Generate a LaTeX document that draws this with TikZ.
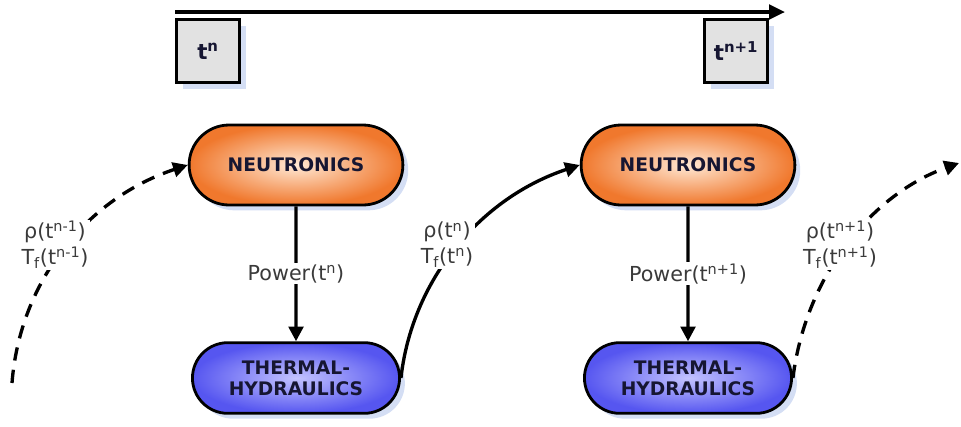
\documentclass[tikz,border=0pt]{standalone}
\usepackage{fontspec}
\setmainfont{DejaVu Sans}
\usetikzlibrary{arrows.meta,shapes.misc,shadows}

\definecolor{neuouter}{RGB}{240,120,45}
\definecolor{neuinner}{RGB}{255,232,212}
\definecolor{thouter}{RGB}{86,86,240}
\definecolor{thinner}{RGB}{195,195,255}
\definecolor{boxgray}{RGB}{226,226,226}
\definecolor{shadowblue}{RGB}{212,222,244}
\definecolor{navytext}{RGB}{22,22,50}
\definecolor{labelgray}{RGB}{58,58,58}

\tikzset{
  pill/.style={rounded rectangle, draw=black, line width=2.1pt, text=navytext, align=center,
    font=\bfseries\fontsize{14}{16}\selectfont,
    drop shadow={shadow xshift=4pt, shadow yshift=-4pt, fill=shadowblue, opacity=1}},
  neubox/.style={pill, inner color=neuinner, outer color=neuouter, minimum width=167pt, minimum height=60pt},
  thbox/.style={pill, inner color=thinner, outer color=thouter, minimum width=162pt, minimum height=53pt},
  timebox/.style={draw=black, line width=2.4pt, fill=boxgray, minimum size=47pt, text=navytext,
    font=\bfseries\fontsize{16}{18}\selectfont,
    drop shadow={shadow xshift=5pt, shadow yshift=-5pt, fill=shadowblue, opacity=1}},
  lbl/.style={fill=white, text=labelgray, inner sep=1pt, align=center, font=\fontsize{15.5}{19}\selectfont},
  flow/.style={line width=2.5pt, -{Triangle[length=11pt,width=11pt]}},
  flowdash/.style={flow, dash pattern=on 10pt off 7pt},
}

\begin{document}
\begin{tikzpicture}[x=0.75pt,y=0.75pt,yscale=-1,xscale=1]
\useasboundingbox (0,0) rectangle (961,426);

% time axis
\coordinate (tstart) at (175,12);
\coordinate (tend) at (785,12);
\draw [line width=2.5pt, -{Triangle[length=12pt,width=11pt]}] (tstart) -- (tend);
\node [timebox] (tn) at (208,51) {t\textsuperscript{n}};
\node [timebox] (tnext) at (736,51) {t\textsuperscript{n+1}};

% solver boxes
\node [neubox] (neu1) at (296,165) {NEUTRONICS};
\node [thbox] (th1) at (296,378) {THERMAL-\\HYDRAULICS};
\node [neubox] (neu2) at (688,165) {NEUTRONICS};
\node [thbox] (th2) at (688,378) {THERMAL-\\HYDRAULICS};

% power transfer
\draw [flow] (neu1) -- node [lbl] (pw1) {Power(t\textsuperscript{n})} (th1);
\draw [flow] (neu2) -- node [lbl] (pw2) {Power(t\textsuperscript{n+1})} (th2);

% feedback
\coordinate (fbin) at (12,383);
\coordinate (fbout) at (959,163);
\draw [flowdash] (fbin) .. controls (20,280) and (88,198) .. (neu1.west);
\draw [flow] (th1.east) .. controls (412,280) and (480,198) .. (neu2.west);
\draw [flowdash] (th2.east) .. controls (805,280) and (868,196) .. (fbout);

% Text Node
\node [lbl] (fb1) at (55,245) {ρ(t\textsuperscript{n-1})\\T\textsubscript{f}(t\textsuperscript{n-1})};
% Text Node
\node [lbl] (fb2) at (447,245) {ρ(t\textsuperscript{n})\\T\textsubscript{f}(t\textsuperscript{n})};
% Text Node
\node [lbl] (fb3) at (840,245) {ρ(t\textsuperscript{n+1})\\T\textsubscript{f}(t\textsuperscript{n+1})};

\end{tikzpicture}
\end{document}
